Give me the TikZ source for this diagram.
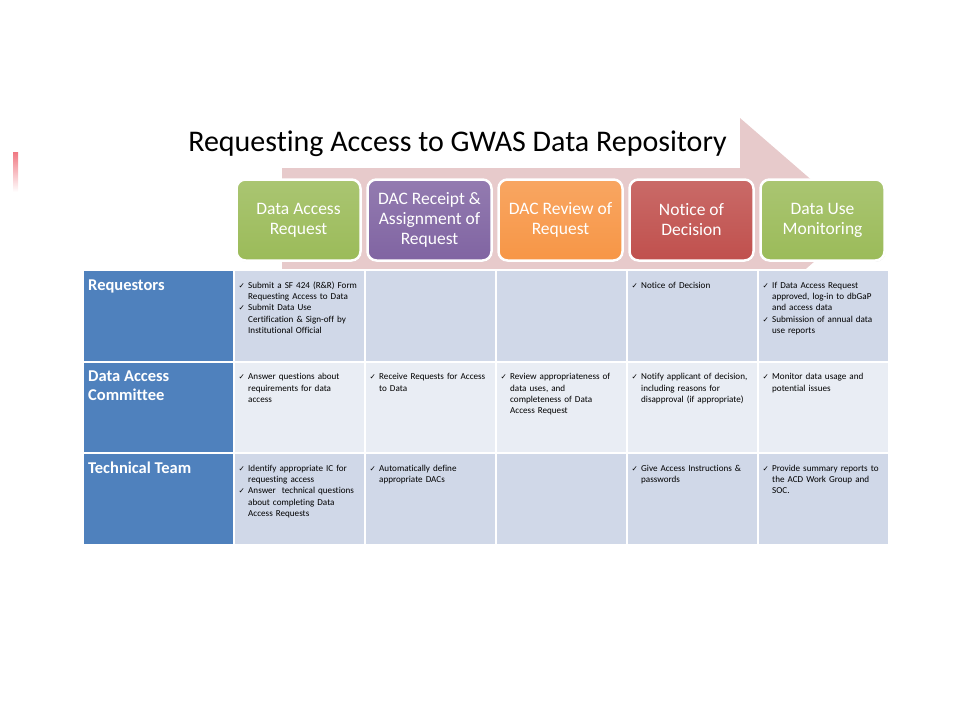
\documentclass[tikz,border=0pt]{standalone}
\usepackage{fontspec}
\setmainfont{Carlito}[Ligatures=NoCommon]
\newfontfamily\symfont{DejaVu Sans}
\usetikzlibrary{positioning,shadows}

\definecolor{stepgreen}{RGB}{155,187,89}
\definecolor{steppurple}{RGB}{128,100,162}
\definecolor{steporange}{RGB}{247,150,70}
\definecolor{stepred}{RGB}{192,80,77}
\definecolor{arrowpink}{RGB}{231,202,203}
\definecolor{rowblue}{RGB}{79,129,189}
\definecolor{celldark}{RGB}{208,216,232}
\definecolor{celllight}{RGB}{233,237,244}
\definecolor{barpink}{RGB}{240,120,130}

% one ticked item, later lines hang under the text
\newcommand{\chk}[1]{\par\hangindent=10pt\hangafter=1\noindent\makebox[10pt][l]{\rule{0pt}{7pt}\hspace{0.5pt}{\symfont\fontsize{7.5}{8}\selectfont ✓}}#1\par}

\begin{document}
\begin{tikzpicture}[x=1pt, y=-1pt,
        stepbox/.style={rounded corners=9pt, draw=white, line width=2.5pt, outer sep=0pt,
            minimum width=124pt, minimum height=81pt, align=center, text=white,
            font=\fontsize{17.5}{20}\selectfont,
            drop shadow={opacity=0.18, shadow xshift=0.8pt, shadow yshift=-1.2pt}},
        cell/.style={draw=white, line width=2pt, outer sep=0pt, inner sep=0pt, anchor=north west,
            minimum width=131pt, minimum height=91.5pt},
        rowhead/.style={cell, fill=rowblue, minimum width=151pt},
        headtext/.style={anchor=north west, inner sep=0pt, align=left, text=white,
            font=\fontsize{16.5}{19}\selectfont\bfseries},
        celltext/.style={anchor=north west, inner sep=0pt, text width=125pt, align=left,
            font=\fontsize{9.1}{11.2}\selectfont}]
        \useasboundingbox (0,0) rectangle (960,720);

        % small mark at the left edge
        \shade[top color=barpink, bottom color=white] (13,152) rectangle (18,192);

        % big arrow behind the steps
        \fill[arrowpink] (282,168) -- (740,168) -- (740,118) -- (860,222) -- (740,326) -- (740,276) -- (282,276) -- cycle;

        \node[font=\fontsize{30}{34}\selectfont, anchor=base] (title) at (457.5,151) {Requesting Access to GWAS Data Repository};

        % steps
        \node[stepbox, top color=stepgreen!85!white, bottom color=stepgreen] (s1) at (298.5,220) {Data Access\\Request};
        \node[stepbox, top color=steppurple!85!white, bottom color=steppurple, right=7pt of s1] (s2) {DAC Receipt \&\\Assignment of\\Request};
        \node[stepbox, top color=steporange!85!white, bottom color=steporange, right=7pt of s2] (s3) {DAC Review of\\Request};
        \node[stepbox, top color=stepred!85!white, bottom color=stepred, right=7pt of s3] (s4) {Notice of\\Decision};
        \node[stepbox, top color=stepgreen!85!white, bottom color=stepgreen, right=7pt of s4] (s5) {Data Use\\Monitoring};

        % table
        \node[rowhead] (r1) at (83,270) {};
        \node[rowhead] (r2) at (83,361.5) {};
        \node[rowhead] (r3) at (83,453) {};

        \node[cell, fill=celldark] (c11) at (234,270) {};
        \node[cell, fill=celldark] (c12) at (365,270) {};
        \node[cell, fill=celldark] (c13) at (496,270) {};
        \node[cell, fill=celldark] (c14) at (627,270) {};
        \node[cell, fill=celldark] (c15) at (758,270) {};

        \node[cell, fill=celllight] (c21) at (234,361.5) {};
        \node[cell, fill=celllight] (c22) at (365,361.5) {};
        \node[cell, fill=celllight] (c23) at (496,361.5) {};
        \node[cell, fill=celllight] (c24) at (627,361.5) {};
        \node[cell, fill=celllight] (c25) at (758,361.5) {};

        \node[cell, fill=celldark] (c31) at (234,453) {};
        \node[cell, fill=celldark] (c32) at (365,453) {};
        \node[cell, fill=celldark] (c33) at (496,453) {};
        \node[cell, fill=celldark] (c34) at (627,453) {};
        \node[cell, fill=celldark] (c35) at (758,453) {};

        \node[headtext] (r1 text) at ([shift={(5,8)}]r1.north west) {\rule{0pt}{12pt}Requestors};
        \node[headtext] (r2 text) at ([shift={(5,8)}]r2.north west) {\rule{0pt}{12pt}Data Access\\Committee};
        \node[headtext] (r3 text) at ([shift={(5,8)}]r3.north west) {\rule{0pt}{12pt}Technical Team};

        \node[celltext] (t11) at ([shift={(4,7)}]c11.north west) {\chk{Submit a SF 424 (R\&R) Form\newline Requesting Access to Data}\chk{Submit Data Use\newline Certification \& Sign-off by\newline Institutional Official}};
        \node[celltext] (t14) at ([shift={(4,7)}]c14.north west) {\chk{Notice of Decision}};
        \node[celltext] (t15) at ([shift={(4,7)}]c15.north west) {\chk{If Data Access Request\newline approved, log-in to dbGaP\newline and access data}\chk{Submission of annual data\newline use reports}};

        \node[celltext] (t21) at ([shift={(4,7)}]c21.north west) {\chk{Answer questions about\newline requirements for data\newline access}};
        \node[celltext] (t22) at ([shift={(4,7)}]c22.north west) {\chk{Receive Requests for Access\newline to Data}};
        \node[celltext] (t23) at ([shift={(4,7)}]c23.north west) {\chk{Review appropriateness of\newline data uses, and\newline completeness of Data\newline Access Request}};
        \node[celltext] (t24) at ([shift={(4,7)}]c24.north west) {\chk{Notify applicant of decision,\newline including reasons for\newline disapproval (if appropriate)}};
        \node[celltext] (t25) at ([shift={(4,7)}]c25.north west) {\chk{Monitor data usage and\newline potential issues}};

        \node[celltext] (t31) at ([shift={(4,7)}]c31.north west) {\chk{Identify appropriate IC for\newline requesting access}\chk{Answer~ technical questions\newline about completing Data\newline Access Requests}};
        \node[celltext] (t32) at ([shift={(4,7)}]c32.north west) {\chk{Automatically define\newline appropriate DACs}};
        \node[celltext] (t34) at ([shift={(4,7)}]c34.north west) {\chk{Give Access Instructions \&\newline passwords}};
        \node[celltext] (t35) at ([shift={(4,7)}]c35.north west) {\chk{Provide summary reports to\newline the ACD Work Group and\newline SOC.}};
    \end{tikzpicture}
\end{document}
